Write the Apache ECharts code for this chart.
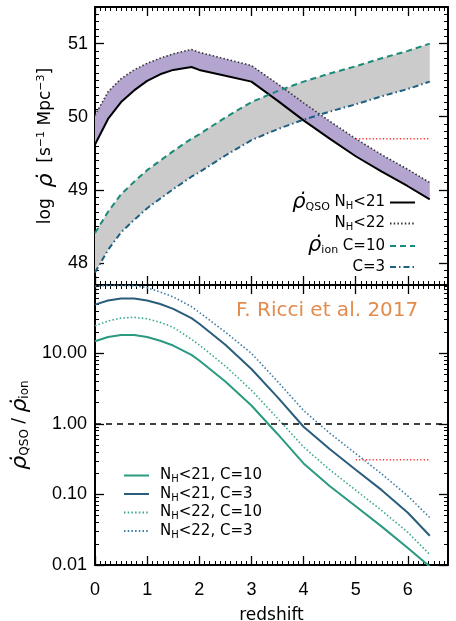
<!DOCTYPE html>
<html>
<head>
<meta charset="utf-8">
<script src="https://cdn.jsdelivr.net/npm/echarts@6/dist/echarts.min.js"></script>
<style>
  html, body { margin: 0; padding: 0; background: #fff; }
  #chart { width: 456px; height: 621px; }
</style>
</head>
<body>
<div id="chart"></div>
<script>
// ---- data ----------------------------------------------------------------
const redshift = [0, 0.25, 0.5, 0.75, 1.0, 1.25, 1.5, 1.85, 2.0, 2.5, 3.0, 3.5, 4.0, 4.5, 5.0, 5.5, 6.0, 6.42];

// log of the QSO emission rate density (N_H < 21 and N_H < 22)
const qsoNH21 = [49.62, 49.97, 50.20, 50.36, 50.49, 50.58, 50.64, 50.68, 50.64, 50.56, 50.48, 50.22, 49.95, 49.70, 49.46, 49.25, 49.05, 48.87];
const qsoNH22 = [50.02, 50.34, 50.52, 50.64, 50.73, 50.80, 50.86, 50.92, 50.88, 50.79, 50.70, 50.45, 50.19, 49.94, 49.70, 49.48, 49.28, 49.10];

// log of the rate needed to keep the IGM ionized (clumping C = 10 and C = 3)
const ionC10 = [48.41, 48.70, 48.94, 49.11, 49.27, 49.40, 49.53, 49.70, 49.76, 49.99, 50.20, 50.35, 50.48, 50.59, 50.69, 50.80, 50.90, 51.00];
const ionC3  = [47.87, 48.18, 48.42, 48.59, 48.75, 48.88, 49.01, 49.18, 49.24, 49.47, 49.68, 49.83, 49.96, 50.07, 50.17, 50.28, 50.38, 50.48];

// ratio rho_QSO / rho_ion
const ratioNH21C10 = [14.8, 17.0, 18.2, 18.2, 17.0, 15.1, 12.9, 9.5, 7.9, 4.0, 1.82, 0.72, 0.275, 0.132, 0.068, 0.035, 0.0174, 0.0095];
const ratioNH21C3  = [49, 56, 60, 60, 56, 50, 42.7, 31.6, 26.3, 13.2, 6.0, 2.4, 0.91, 0.44, 0.224, 0.115, 0.055, 0.026];
const ratioNH22C10 = [24.5, 28.8, 31.6, 32.4, 30.9, 27.5, 23.4, 15.8, 13.2, 6.6, 3.0, 1.20, 0.47, 0.224, 0.115, 0.059, 0.029, 0.0141];
const ratioNH22C3  = [89, 92, 92, 91, 85, 74, 63, 46, 38, 20, 10.0, 4.0, 1.55, 0.74, 0.38, 0.195, 0.095, 0.047];

// high-redshift constraint (red dotted segments)
const limitZ = [5.0, 6.42];
const limitRate = [49.70, 49.70];
const limitRatio = [0.31, 0.31];

// unity ratio reference
const unityRatio = 1;

// axis ticks
const xRange = [0, 6.77];
const xMajor = [0, 1, 2, 3, 4, 5, 6];
const rateRange = [47.7, 51.5];
const rateMajor = [48, 49, 50, 51];
const ratioRange = [0.01, 93];
const ratioMajor = [0.01, 0.1, 1, 10];

// ---- helpers ---------------------------------------------------------------
const FONT = 'Liberation Sans';
const WIDE = 'DejaVu Sans';

const pairs = (xs, ys) => xs.map((x, i) => [x, ys[i]]);

function linearMinor(range, step) {
  const out = [];
  const n0 = Math.ceil(range[0] / step - 1e-9), n1 = Math.floor(range[1] / step + 1e-9);
  for (let n = n0; n <= n1; n++) out.push(+(n * step).toFixed(6));
  return out;
}
function logMinor(range) {
  const out = [];
  for (let e = -3; e <= 3; e++) {
    for (let m = 2; m <= 9; m++) {
      const v = +(m * Math.pow(10, e)).toPrecision(3);
      if (v > range[0] && v < range[1]) out.push(v);
    }
  }
  return out;
}
const xMinor = linearMinor(xRange, 0.1);
const rateMinor = linearMinor(rateRange, 0.1);
const ratioMinor = logMinor(ratioRange);

const labelStyle = { fontFamily: FONT, fontSize: 18, color: '#000' };

function axisSet(grid, pos, opt) {
  // a minor-tick axis carrying the frame line, plus a major-tick axis
  const base = Object.assign({
    gridIndex: grid, position: pos, splitLine: { show: false },
  }, opt.scale);
  const minor = Object.assign({}, base, {
    axisLine: { show: true, onZero: false, lineStyle: { color: '#000', width: 2 } },
    axisTick: { show: true, inside: true, length: 4, customValues: opt.minor, lineStyle: { color: '#000', width: 1 } },
    axisLabel: { show: false },
  });
  const major = Object.assign({}, base, {
    axisLine: { show: false, onZero: false },
    axisTick: { show: true, inside: true, length: 9, customValues: opt.major, lineStyle: { color: '#000', width: 1.3 } },
    axisLabel: opt.labels ? Object.assign({
      show: true, customValues: opt.major, formatter: opt.formatter
    }, labelStyle, opt.labelExtra || {}) : { show: false },
  }, opt.name ? opt.name : {});
  return [minor, major];
}

const xScale = { type: 'value', min: xRange[0], max: xRange[1] };
const rateScale = { type: 'value', min: rateRange[0], max: rateRange[1] };
const ratioScale = { type: 'log', logBase: 10, min: ratioRange[0], max: ratioRange[1] };

const xAxes = [].concat(
  axisSet(0, 'bottom', { scale: xScale, minor: xMinor, major: xMajor }),
  axisSet(0, 'top', { scale: xScale, minor: xMinor, major: xMajor }),
  axisSet(1, 'bottom', {
    scale: xScale, minor: xMinor, major: xMajor, labels: true,
    formatter: v => String(Math.round(v)), labelExtra: { margin: 16 },
    name: { name: 'redshift', nameLocation: 'middle', nameGap: 42,
            nameTextStyle: { fontFamily: WIDE, fontSize: 17, color: '#000' } }
  }),
  axisSet(1, 'top', { scale: xScale, minor: xMinor, major: xMajor })
);
// indices: grid0 bottom 0/1, top 2/3 ; grid1 bottom 4/5, top 6/7

const yAxes = [].concat(
  axisSet(0, 'left', {
    scale: rateScale, minor: rateMinor, major: rateMajor, labels: true,
    formatter: v => String(Math.round(v)), labelExtra: { margin: 7 },
    name: { name: 'log  {r|\u03C1\u0307}  [s{sup|\u22121} Mpc{sup|\u22123}]', nameLocation: 'middle', nameGap: 38,
            nameTextStyle: { fontFamily: WIDE, fontSize: 17, color: '#000',
              rich: { r: { fontFamily: WIDE, fontStyle: 'italic', fontSize: 22, color: '#000' },
                      sup: { fontFamily: WIDE, fontSize: 11, color: '#000', padding: [0, 0, 9, 0] } } } }
  }),
  axisSet(0, 'right', { scale: rateScale, minor: rateMinor, major: rateMajor }),
  axisSet(1, 'left', {
    scale: ratioScale, minor: ratioMinor, major: ratioMajor, labels: true,
    formatter: v => Number(v).toFixed(2), labelExtra: { margin: 8 },
    name: { name: '{r|\u03C1\u0307}{sub|QSO} / {r|\u03C1\u0307}{sub|ion}', nameLocation: 'middle', nameGap: 48,
            nameTextStyle: { fontFamily: WIDE, fontSize: 17, color: '#000',
              rich: { r: { fontFamily: WIDE, fontStyle: 'italic', fontSize: 22, color: '#000' },
                      sub: { fontFamily: WIDE, fontSize: 12, color: '#000', padding: [10, 0, 0, 0] } } } }
  }),
  axisSet(1, 'right', { scale: ratioScale, minor: ratioMinor, major: ratioMajor })
);
// indices: grid0 left 0/1, right 2/3 ; grid1 left 4/5, right 6/7

// ---- series ----------------------------------------------------------------
const TOP = { xAxisIndex: 0, yAxisIndex: 0 };
const BOT = { xAxisIndex: 4, yAxisIndex: 4 };

function line(name, axes, data, color, width, type, z) {
  return Object.assign({
    name, type: 'line', data, symbol: 'none', silent: true, animation: false,
    lineStyle: { color, width, type }, itemStyle: { color }, z: z || 3,
  }, axes);
}
// filled region between two curves sharing the redshift grid
function band(name, axes, lower, upper, fill, z) {
  return Object.assign({
    name, type: 'custom', silent: true, animation: false, clip: true, z,
    data: redshift.map((x, i) => [x, lower[i], upper[i]]),
    encode: { x: 0, y: [1, 2] },
    renderItem: (params, api) => {
      if (params.dataIndex !== 0) return null;
      const topEdge = redshift.map((x, i) => api.coord([x, upper[i]]));
      const botEdge = redshift.map((x, i) => api.coord([x, lower[i]])).reverse();
      return { type: 'polygon', shape: { points: topEdge.concat(botEdge) }, style: { fill } };
    },
  }, axes);
}

const C_TEAL = '#1c8a78';
const C_BLUE = '#1e5f82';
const dot = [1.5, 2.2];

const series = [
  band('ionBand', TOP, ionC3, ionC10, '#cbcbcb', 1),
  band('qsoBand', TOP, qsoNH21, qsoNH22, '#b4a5d0', 2),

  line('qso21', TOP, pairs(redshift, qsoNH21), '#000', 2, 'solid'),
  line('qso22', TOP, pairs(redshift, qsoNH22), '#333', 1.6, dot),
  line('ion10', TOP, pairs(redshift, ionC10), C_TEAL, 2, [6, 4]),
  line('ion3', TOP, pairs(redshift, ionC3), C_BLUE, 2, [6, 3, 1.5, 3]),
  line('limitTop', TOP, pairs(limitZ, limitRate), '#ff2a2a', 1.5, [1.2, 2.2]),

  line('r21c10', BOT, pairs(redshift, ratioNH21C10), '#2a9a80', 2, 'solid'),
  line('r21c3', BOT, pairs(redshift, ratioNH21C3), '#2a5d7c', 2, 'solid'),
  line('r22c10', BOT, pairs(redshift, ratioNH22C10), '#35a892', 1.6, dot),
  line('r22c3', BOT, pairs(redshift, ratioNH22C3), '#3a7ca4', 1.6, dot),
  Object.assign(line('limitBot', BOT, pairs(limitZ, limitRatio), '#ff2a2a', 1.5, [1.2, 2.2]), {
    markLine: { silent: true, symbol: 'none', animation: false, label: { show: false },
      lineStyle: { color: '#000', width: 1.5, type: [6, 5] }, data: [{ yAxis: unityRatio }] }
  }),
];

// ---- legends ---------------------------------------------------------------
const richLegend = {
  r: { fontFamily: WIDE, fontStyle: 'italic', fontSize: 21, color: '#000' },
  q: { fontFamily: WIDE, fontSize: 11, color: '#000', padding: [9, 0, 0, 0] },
  h: { fontFamily: WIDE, fontSize: 10, color: '#000', padding: [8, 0, 0, 0] },
};
const topLegendText = {
  qso21: '{r|\u03C1\u0307}{q|QSO} N{h|H}<21',
  qso22: 'N{h|H}<22',
  ion10: '{r|\u03C1\u0307}{q|ion} C=10',
  ion3: 'C=3',
};
const bottomLegendText = {
  r21c10: 'N{h|H}<21, C=10',
  r21c3: 'N{h|H}<21, C=3',
  r22c10: 'N{h|H}<22, C=10',
  r22c3: 'N{h|H}<22, C=3',
};

const option = {
  backgroundColor: '#fff',
  animation: false,
  grid: [
    { left: 95, top: 7, width: 353, height: 278, containLabel: false, outerBoundsMode: 'none' },
    { left: 95, top: 285, width: 353, height: 280, containLabel: false, outerBoundsMode: 'none' },
  ],
  xAxis: xAxes,
  yAxis: yAxes,
  legend: [
    {
      data: Object.keys(topLegendText), orient: 'vertical', align: 'right',
      right: 40, top: 192, padding: 0, itemGap: 3, itemWidth: 25, itemHeight: 14,
      selectedMode: false, itemStyle: { opacity: 0 },
      formatter: n => topLegendText[n],
      textStyle: { fontFamily: WIDE, fontSize: 15, color: '#000', rich: richLegend },
    },
    {
      data: Object.keys(bottomLegendText), orient: 'vertical', align: 'left',
      left: 123, top: 468, padding: 0, itemGap: 2, itemWidth: 25, itemHeight: 14,
      selectedMode: false, itemStyle: { opacity: 0 },
      formatter: n => bottomLegendText[n],
      textStyle: { fontFamily: WIDE, fontSize: 15, color: '#000', rich: richLegend, padding: [0, 0, 0, 6] },
    },
  ],
  graphic: [
    { type: 'text', left: 236, top: 301, silent: true,
      style: { text: 'F. Ricci et al. 2017', fill: '#e38b4c', font: '20px "DejaVu Sans"' } },
  ],
  series,
};

const chart = echarts.init(document.getElementById('chart'), null, { renderer: 'canvas' });
chart.setOption(option);
</script>
</body>
</html>
